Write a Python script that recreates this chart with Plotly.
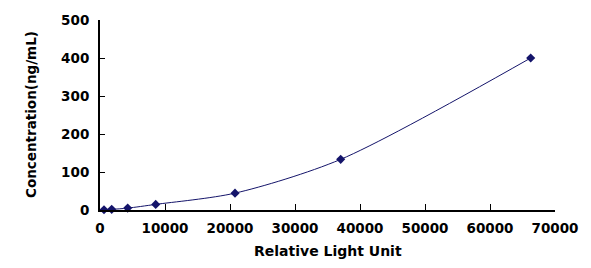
import plotly.graph_objects as go

rlu = [615, 1800, 4260, 8570, 20770, 37030, 66260]
conc = [0.55, 1.65, 4.94, 14.8, 44.4, 133.3, 400.0]
x_ticks = [0, 10000, 20000, 30000, 40000, 50000, 60000, 70000]
y_ticks = [0, 100, 200, 300, 400, 500]

FONT = "DejaVu Sans"
navy = "#14146a"

fig = go.Figure()
fig.add_trace(go.Scatter(
    x=rlu, y=conc, mode="lines+markers",
    line=dict(color=navy, width=1, shape="spline", smoothing=0.8),
    marker=dict(symbol="diamond", size=7, color=navy),
    showlegend=False, cliponaxis=False,
))

fig.update_layout(
    width=591, height=268,
    margin=dict(l=100, r=36, t=20, b=58),
    paper_bgcolor="white", plot_bgcolor="white",
    font=dict(family=FONT, size=13, color="black"),
    xaxis=dict(range=[0, 70000], tickvals=x_ticks, ticktext=[str(v) for v in x_ticks],
               showgrid=False, zeroline=False, showline=True, linecolor="black", linewidth=2,
               ticks="inside", ticklen=6, tickcolor="black", tickwidth=1,
               ticklabelstandoff=5,
               tickfont=dict(family=FONT, size=13.5, color="black", weight="bold")),
    yaxis=dict(range=[0, 500], tickvals=y_ticks, ticktext=[str(v) for v in y_ticks],
               showgrid=False, zeroline=False, showline=True, linecolor="black", linewidth=2,
               ticks="inside", ticklen=5, tickcolor="black", tickwidth=1,
               ticklabelstandoff=6,
               tickfont=dict(family=FONT, size=13.5, color="black", weight="bold")),
    annotations=[
        dict(text="<b>Relative Light Unit</b>", xref="paper", yref="paper", x=0.5, y=0,
             yshift=-41, xanchor="center", yanchor="middle", showarrow=False,
             font=dict(family=FONT, size=14, color="black")),
        dict(text="<b>Concentration(ng/mL)</b>", xref="paper", yref="paper", x=0, y=0.5,
             xshift=-69, xanchor="center", yanchor="middle", showarrow=False, textangle=-90,
             font=dict(family=FONT, size=13.5, color="black")),
    ],
)

fig.write_html("out.html")
